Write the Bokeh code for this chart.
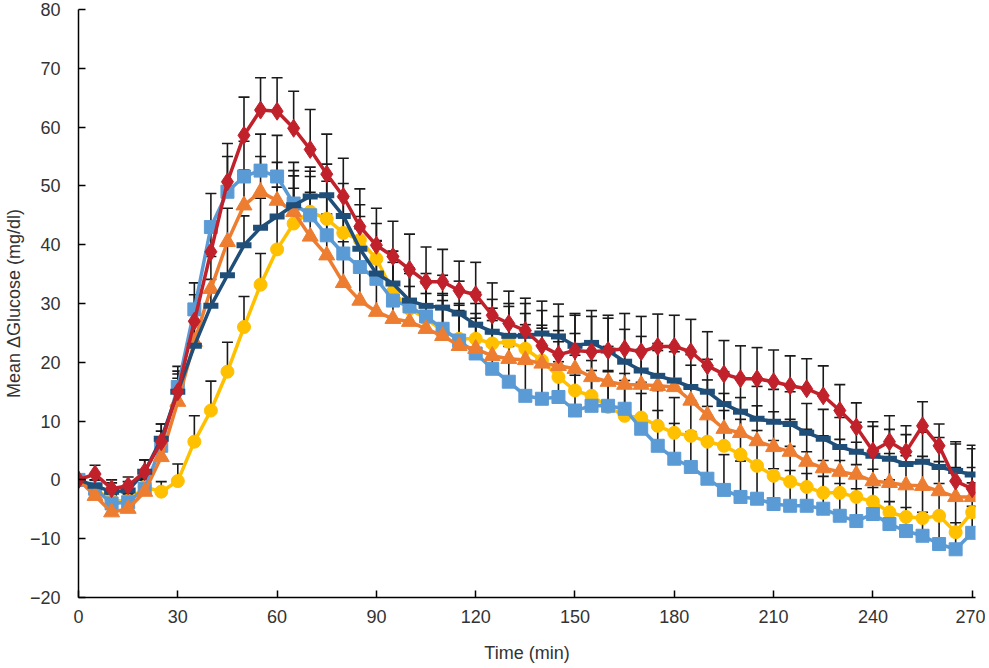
from bokeh.plotting import figure
from bokeh.models import ColumnDataSource, Whisker, TeeHead, FixedTicker
from bokeh.embed import file_html
from bokeh.resources import INLINE

# time points (min), every 5 min from 0 to 270
t = list(range(0, 275, 5))

red = [0, 1.0, -1.5, -1, 1.4, 6.5, 15, 27, 38.8, 50.7, 58.6, 62.9, 62.7, 59.8, 56.2, 52, 48.2, 43.1,
       39.9, 38, 35.8, 33.7, 33.7, 32.2, 31.5, 28, 26.6, 25.4, 22.8, 21.3, 22, 21.8, 22, 22.3,
       21.8, 22.7, 22.7, 21.8, 19.4, 18, 17.2, 17.2, 16.7, 16, 15.5, 14.3, 11.8, 9, 4.9, 6.5, 4.8,
       9.2, 5.8, -0.2, -1.5]
red_err = [0, 1.5, 1.5, 1.5, 2, 3, 3.5, 4.5, 5, 6.5, 6.5, 5.5, 5.7, 6.3, 6.8, 6.8, 6.5, 6.4,
           6.3, 6, 6, 5.9, 5.5, 5, 5.5, 5.5, 5.5, 5.5, 6, 6.5, 6, 6, 6, 6,
           6, 5.5, 5.3, 5.5, 5.8, 5.7, 5.6, 5.3, 5.4, 5.1, 5.1, 5.1, 4.4, 4.1, 5, 4.4, 4.4,
           4.1, 3.7, 6.3, 6.8]

light_blue = [0, -1.5, -4, -3.8, -1.5, 5.8, 15.8, 29, 43, 49, 51.6, 52.6, 51.6, 47, 45, 41.6, 38.5, 36.2,
              34.2, 30.5, 29.5, 27.8, 25.7, 23.7, 21.5, 18.9, 16.7, 14.3, 13.8, 14.1, 11.8, 12.6, 12.6, 12.1,
              8.7, 5.8, 3.6, 2.2, 0.2, -1.7, -2.9, -3.2, -4.1, -4.4, -4.4, -4.9, -6.1, -7, -5.8, -7.5, -8.7,
              -9.5, -10.9, -11.8, -9]
light_blue_err = [0, 1.5, 1.5, 1.5, 1.5, 2.5, 3.5, 4.5, 5.7, 6, 6, 6.2, 7, 7, 7.5, 7, 6.5, 6.5,
                  6.5, 6.5, 6, 6, 6, 6, 6, 6, 6, 6, 6, 6, 6, 6, 6, 6,
                  6, 6, 6, 6, 6, 6, 6.1, 6, 6, 6, 5.5, 5.5, 5.5, 5.5, 4.5, 3.8, 4, 4, 4.5, 4.5, 4.5]

orange = [0, -2.7, -5.5, -4.9, -2, 3.9, 13.3, 23.5, 32.5, 40.5, 46.7, 49, 47.5, 45.6, 41.4, 38.2, 33.5, 30.5,
          28.6, 27.4, 26.9, 25.7, 24.5, 22.8, 22.3, 21.1, 20.6, 20.4, 19.8, 19.4, 18.9, 17.5, 16.7, 16.2,
          16.2, 16, 15.8, 13.5, 11, 8.7, 8, 6.6, 5.6, 4.8, 3.1, 2, 1.4, 0.9, -0.2, -0.5, -0.9,
          -1, -1.9, -2.9, -2.9]
orange_err = [0, 1.5, 2, 2, 2, 3, 4, 5, 5.5, 5.7, 6, 6, 6.5, 7, 7.5, 7, 7, 6.5,
              6.5, 6, 6, 6, 6, 6, 6, 6, 6, 6, 6, 6, 6, 6, 6, 6,
              6, 6, 6, 6, 6, 6, 6, 6, 6, 5.5, 5.5, 5.5, 5.5, 5.5, 5, 5, 5, 5, 5, 5, 5]

yellow = [0, -1.5, -3.5, -3.6, -1.2, -2, -0.2, 6.5, 11.8, 18.4, 26, 33.2, 39.2, 43.6, 45.6, 44.4, 42, 40.8,
          37.6, 32, 29.1, 27.4, 25.4, 24, 24, 23.2, 23.5, 22.3, 20.3, 17.5, 15.2, 14.3, 12.4, 10.9,
          10.6, 9.2, 8, 7.5, 6.5, 5.8, 4.3, 2.4, 0.7, -0.3, -1.2, -2.2, -2.2, -2.9, -3.7, -5.5, -6.3,
          -6.5, -6.1, -8.9, -5.5]
yellow_err = [0, 1, 1, 1.2, 1.5, 1.7, 2.9, 4.4, 5, 5, 5.2, 5.3, 5.5, 6, 6, 6.4, 6, 6,
              6, 6, 6, 6, 6, 6, 6, 6, 6, 6, 6, 6, 6, 6, 6, 6,
              6, 6, 6, 6, 6, 6, 6, 6, 6, 6, 6, 5.5, 5.5, 5.5, 5.5, 5.5, 5.5, 5.5, 5.5, 5.5, 5]

dark_blue = [0, -1, -2, -1.8, 1.4, 7, 15, 22.8, 29.6, 34.8, 39.9, 42.9, 44.8, 46.7, 48.2, 48.4, 44.9, 39.3,
             35.1, 33.4, 30.5, 29.6, 29.3, 28.3, 26.4, 25.2, 24.5, 24.5, 24.9, 24.4, 22.8, 23.3, 22, 20.1,
             18.6, 17.7, 16.9, 15.8, 15, 12.9, 11.6, 10.4, 9.9, 9.5, 8, 7, 5.6, 4.8, 4.1, 3.6, 2.7,
             3.1, 2.2, 1.5, 0.9]
dark_blue_err = [0, 1, 1.5, 1.5, 2, 2.5, 3, 4, 4.5, 5, 5, 5, 5, 5, 5, 5.3, 5.5, 5.5,
                 5.5, 5.5, 5.5, 5.5, 5.5, 5.5, 5.5, 5.5, 5.5, 5.5, 5.5, 5.5, 5.5, 5.5, 5.5, 5.5,
                 5.8, 5.5, 5.5, 5.5, 5.5, 5.5, 5.5, 5.5, 5.5, 5.5, 5, 5, 5, 5, 5, 5, 5, 5, 5, 5, 5]

p = figure(width=985, height=668, x_range=(0, 271), y_range=(-20, 80),
           output_backend="svg", toolbar_location=None,
           min_border_left=77, min_border_right=10, min_border_top=9, min_border_bottom=71)
p.outline_line_color = None
p.xgrid.grid_line_color = None
p.ygrid.grid_line_color = None

series = [
    (yellow, yellow_err, "#FFC000", "circle", 13),
    (light_blue, light_blue_err, "#5B9BD5", "square", 13),
    (orange, orange_err, "#ED7D31", "triangle", 16),
    (dark_blue, dark_blue_err, "#1F4E79", "dash", 15),
    (red, red_err, "#C0212B", "diamond", 18),
]

for vals, err, color, marker, size in series:
    src = ColumnDataSource(dict(t=t, y=vals, up=[v + e for v, e in zip(vals, err)]))
    w = Whisker(source=src, base="t", lower="y", upper="up", dimension="height",
                line_color="#1a1a1a", line_width=1.6,
                upper_head=TeeHead(size=11, line_color="#1a1a1a", line_width=1.6),
                lower_head=None)
    p.add_layout(w)
    p.line("t", "y", source=src, line_color=color, line_width=3.5)
    if marker == "dash":
        p.scatter("t", "y", source=src, marker="dash", size=size, line_color=color, line_width=6)
    else:
        p.scatter("t", "y", source=src, marker=marker, size=size, fill_color=color, line_color=color)

p.xaxis.ticker = FixedTicker(ticks=list(range(0, 271, 30)))
p.yaxis.ticker = FixedTicker(ticks=list(range(-20, 81, 10)))
p.yaxis.major_label_overrides = {-20: "\u221220", -10: "\u221210"}

for ax in (p.xaxis, p.yaxis):
    ax.axis_line_color = "black"
    ax.axis_line_width = 1.5
    ax.major_tick_line_color = "black"
    ax.major_tick_line_width = 1.5
    ax.major_tick_in = 7
    ax.major_tick_out = 0
    ax.minor_tick_line_color = None
    ax.major_label_text_font = "Liberation Sans"
    ax.major_label_text_font_size = "18px"
    ax.major_label_text_color = "#333333"
    ax.axis_label_text_font = "Liberation Sans"
    ax.axis_label_text_font_size = "18px"
    ax.axis_label_text_font_style = "normal"
    ax.axis_label_text_color = "#333333"

p.xaxis.axis_label = "Time (min)"
p.yaxis.axis_label = "Mean \u0394Glucose (mg/dl)"
p.xaxis.major_label_standoff = 12
p.yaxis.major_label_standoff = 18
p.xaxis.axis_label_standoff = 17
p.yaxis.axis_label_standoff = 3

open("out.html", "w").write(file_html(p, INLINE))
